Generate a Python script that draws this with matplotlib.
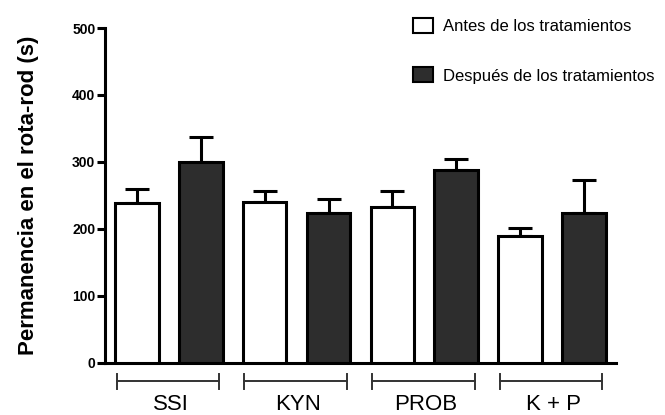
import matplotlib
matplotlib.use("Agg")
import matplotlib.pyplot as plt
import matplotlib.transforms as mtransforms
from matplotlib.patches import Patch
import numpy as np

plt.rcParams['font.family'] = ['Liberation Sans', 'DejaVu Sans']

# Grupos y valores (media + error estándar, en segundos)
grupos = ["SSI", "KYN", "PROB", "K + P"]
antes = [238, 240, 232, 189]
antes_err = [22, 16, 24, 12]
despues = [300, 223, 288, 223]
despues_err = [37, 22, 17, 50]
series = ["Antes de los tratamientos", "Después de los tratamientos"]

color_oscuro = "#2d2d2d"

fig = plt.figure(figsize=(6.65, 4.15), dpi=100)
ax = fig.add_axes([0.158, 0.126, 0.768, 0.8065])

x_antes = np.arange(len(grupos)) * 2
x_despues = x_antes + 1
ancho = 0.68

ax.bar(x_antes, antes, width=ancho, color="white", edgecolor="black", linewidth=2.2, zorder=3)
ax.bar(x_despues, despues, width=ancho, color=color_oscuro, edgecolor="black", linewidth=2.2, zorder=3)

# solo la barra de error superior
for xs, vals, errs in [(x_antes, antes, antes_err), (x_despues, despues, despues_err)]:
    ax.errorbar(xs, vals, yerr=[np.zeros(len(errs)), errs], fmt="none", ecolor="black",
                elinewidth=2.2, capsize=8.6, capthick=2.2, zorder=2)

ax.set_xlim(-0.5, 7.5)
ax.set_ylim(0, 500)
ax.set_yticks([0, 100, 200, 300, 400, 500])
ax.set_xticks([])
ax.spines["top"].set_visible(False)
ax.spines["right"].set_visible(False)
ax.spines["left"].set_linewidth(2.2)
ax.spines["bottom"].set_linewidth(2.2)
ax.tick_params(axis="y", length=6, width=2.2, labelsize=10, pad=1)
for lbl in ax.get_yticklabels():
    lbl.set_fontweight("bold")

ax.set_ylabel("Permanencia en el rota-rod (s)", fontsize=16, fontweight="bold", labelpad=24)

# corchetes de grupo debajo del eje
trans = mtransforms.blended_transform_factory(ax.transData, ax.transAxes)
yb = -0.056
for i, g in enumerate(grupos):
    x0 = x_antes[i] - 0.32
    x1 = x_despues[i] + 0.29
    ax.plot([x0, x1], [yb, yb], color="#333333", lw=1.4, transform=trans, clip_on=False)
    for xe in (x0, x1):
        ax.plot([xe, xe], [yb - 0.022, yb + 0.022], color="#333333", lw=1.4,
                transform=trans, clip_on=False)
    ax.text((x0 + x1) / 2 + 0.04, -0.142, g, transform=trans, ha="center", va="baseline",
            fontsize=16)

handles = [Patch(facecolor="white", edgecolor="black", linewidth=1.5),
           Patch(facecolor=color_oscuro, edgecolor="black", linewidth=1.5)]
ax.legend(handles, series, loc="upper left", bbox_to_anchor=(0.573, 1.075), frameon=False,
          fontsize=12, handlelength=1.2, handleheight=1.0, handletextpad=0.6,
          labelspacing=2.0)

fig.savefig("out.png", dpi=100)
